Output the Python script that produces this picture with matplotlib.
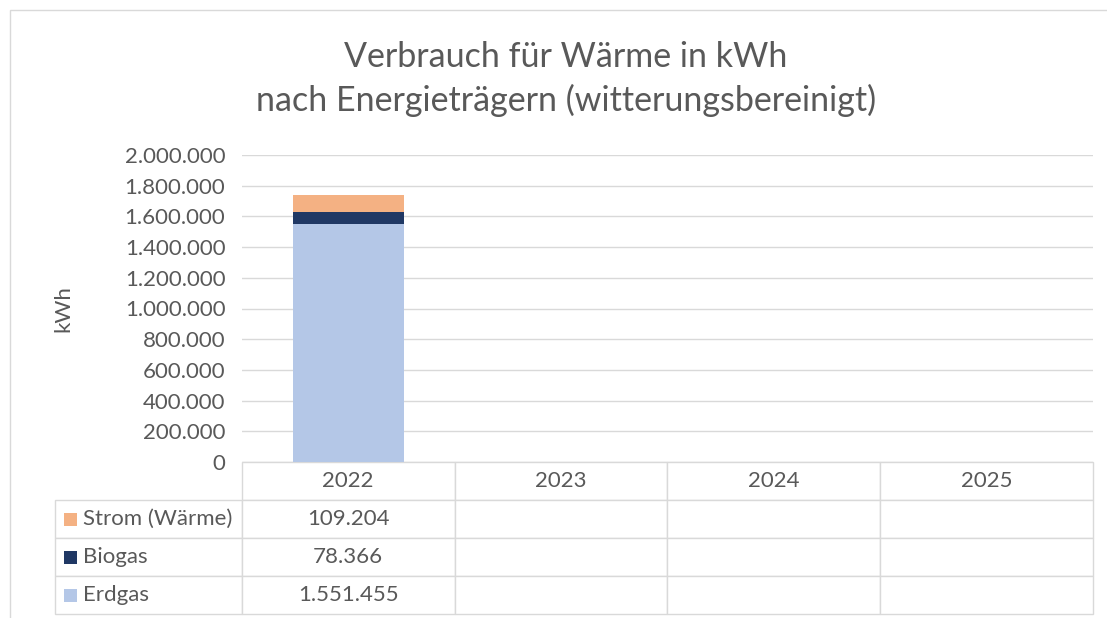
"""
waerme_verbrauch.py
===================
Gestapeltes Säulendiagramm: Verbrauch für Wärme nach Energieträgern,
mit Datentabelle unter der Grafik.
"""

import numpy as np
import matplotlib.pyplot as plt
from matplotlib.table import Table
from matplotlib.patches import Rectangle
from matplotlib.ticker import FuncFormatter

plt.rcParams['font.family'] = ['Lato', 'DejaVu Sans']

# Farben wie in der Vorlage
COLOR_ERDGAS = '#B4C7E7'   # hellblau
COLOR_BIOGAS = '#203864'   # dunkelblau
COLOR_STROM = '#F4B183'    # orange
COLOR_TEXT = '#595959'
COLOR_LINIE = '#D9D9D9'

JAHRE = ['2022', '2023', '2024', '2025']

# Werte in kWh (None = noch keine Daten)
TRAEGER = [
    {'name': 'Erdgas', 'werte': [1551455, None, None, None], 'color': COLOR_ERDGAS},
    {'name': 'Biogas', 'werte': [78366, None, None, None], 'color': COLOR_BIOGAS},
    {'name': 'Strom (Wärme)', 'werte': [109204, None, None, None], 'color': COLOR_STROM},
]

FS = 16  # Schriftgröße Achsen / Tabelle


def de_format(v):
    """Zahl mit Punkt als Tausendertrennzeichen."""
    return f'{v:,.0f}'.replace(',', '.')


def graficar():
    fig = plt.figure(figsize=(11.07, 6.18), dpi=100)
    ax = fig.add_axes([242 / 1107, 1 - 462 / 618, 851 / 1107, 307 / 618])

    x = np.arange(len(JAHRE))
    bottom = np.zeros(len(JAHRE))
    for t in TRAEGER:
        vals = np.array([v if v is not None else 0 for v in t['werte']], dtype=float)
        ax.bar(x, vals, width=0.52, bottom=bottom, color=t['color'], zorder=3)
        bottom += vals

    ax.set_xlim(-0.5, len(JAHRE) - 0.5)
    ax.set_ylim(0, 2000000)
    ax.set_yticks(np.arange(0, 2000001, 200000))
    ax.yaxis.set_major_formatter(FuncFormatter(lambda v, p: de_format(v)))
    ax.tick_params(axis='y', length=0, labelsize=FS, labelcolor=COLOR_TEXT, pad=12)
    ax.set_xticks([])
    ax.grid(True, axis='y', color=COLOR_LINIE, linewidth=1, zorder=0)
    for s in ax.spines.values():
        s.set_visible(False)

    ax.set_ylabel('kWh', fontsize=FS, color=COLOR_TEXT, labelpad=37)

    # Datentabelle: Spalte 0 = Beschriftung, Spalten 1..4 = Jahre
    tabla = Table(ax, bbox=[(55 - 242) / 851, -152 / 307, 1038 / 851, 152 / 307])
    w_label, w_col, h = 187, 213, 38
    for j, jahr in enumerate(JAHRE):
        c = tabla.add_cell(0, j + 1, w_col, h, text=jahr, loc='center')
        c.set_edgecolor(COLOR_LINIE)
        c.get_text().set_color(COLOR_TEXT)
        c.get_text().set_fontsize(FS)
    for i, t in enumerate(reversed(TRAEGER)):
        c = tabla.add_cell(i + 1, 0, w_label, h, text=t['name'], loc='left')
        c.PAD = 0.15
        c.set_edgecolor(COLOR_LINIE)
        c.get_text().set_color(COLOR_TEXT)
        c.get_text().set_fontsize(FS)
        for j in range(len(JAHRE)):
            v = t['werte'][j]
            c = tabla.add_cell(i + 1, j + 1, w_col, h,
                               text=de_format(v) if v is not None else '', loc='center')
            c.set_edgecolor(COLOR_LINIE)
            c.get_text().set_color(COLOR_TEXT)
            c.get_text().set_fontsize(FS)
        # Legendenkästchen
        yc = (462 - (519 + 38 * i)) / 307
        ax.add_patch(Rectangle(((64 - 242) / 851, yc - 6.5 / 307), 13 / 851, 13 / 307,
                               facecolor=t['color'], transform=ax.transAxes,
                               clip_on=False, zorder=5))
    tabla.auto_set_font_size(False)
    ax.add_table(tabla)

    fig.suptitle('Verbrauch für Wärme in kWh\nnach Energieträgern (witterungsbereinigt)',
                 fontsize=24.5, color=COLOR_TEXT, x=566 / 1107, y=1 - 41 / 618,
                 va='top', linespacing=1.4)

    # Diagrammrahmen
    fig.patches.append(Rectangle((10 / 1107, -0.1), 1.2, 1 - 10 / 618 + 0.1,
                                 transform=fig.transFigure, fill=False,
                                 edgecolor=COLOR_LINIE, linewidth=1))

    fig.savefig('out.png', dpi=100)
    plt.close()


def main():
    graficar()


if __name__ == '__main__':
    main()
